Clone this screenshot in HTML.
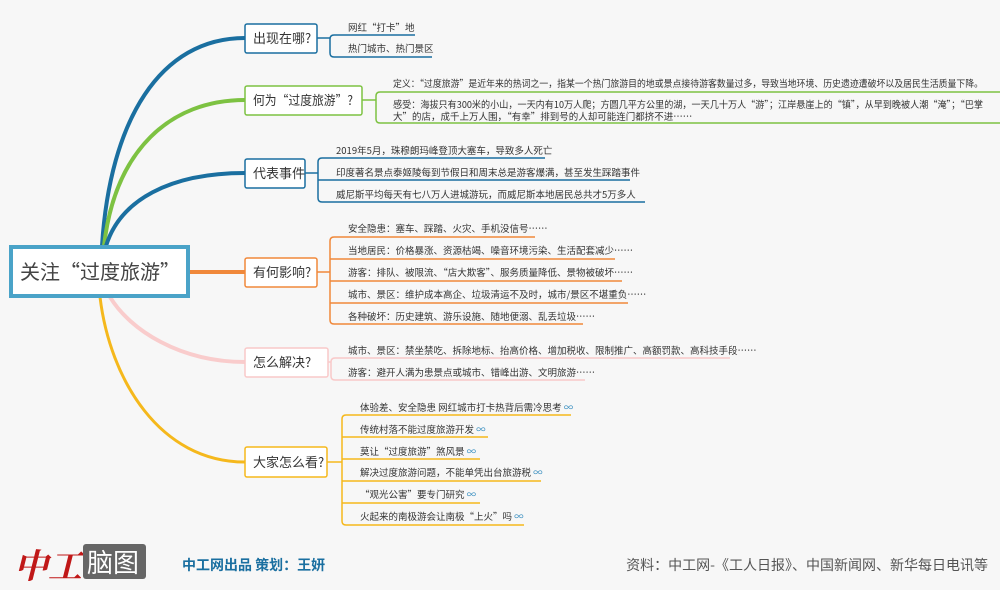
<!DOCTYPE html>
<html><head><meta charset="utf-8"><style>
html,body{margin:0;padding:0;background:#f7f7f7;}
body{width:1000px;height:590px;overflow:hidden;position:relative;font-family:"Noto Sans CJK SC","Liberation Sans",sans-serif;}
svg{position:absolute;left:0;top:0;}
text{font-family:"Noto Sans CJK SC","Liberation Sans",sans-serif;fill:#333;}
.s{font-size:9.5px;}
.b{font-size:13px;fill:#333;}
</style></head><body>
<svg width="1000" height="590" viewBox="0 0 1000 590">
<g fill="none" stroke-linecap="round">
<path d="M102 246 C110 120,160 38,245 38" stroke="#1a6fa0" stroke-width="4"/>
<path d="M104 246 C115 150,170 100,245 100" stroke="#7dc242" stroke-width="4"/>
<path d="M106 246 C120 200,170 173,245 173" stroke="#1a6fa0" stroke-width="4"/>
<path d="M190 272 L245 272" stroke="#f0883a" stroke-width="4"/>
<path d="M110 297 C130 330,180 362,245 362" stroke="#f9cccc" stroke-width="4"/>
<path d="M100 297 C110 380,160 462,245 462" stroke="#f5b81c" stroke-width="3"/>
</g>
<rect x="11" y="247" width="177" height="49" fill="#fff" stroke="#4aa3c8" stroke-width="4"/>
<text x="20" y="279" style="font-size:20px;fill:#444">关注“过度旅游”</text>
<g fill="#fff" stroke-width="1.5">
<rect x="245" y="24" width="72" height="29" rx="2" stroke="#1a6fa0"/>
<rect x="245" y="86" width="117" height="29" rx="2" stroke="#7dc242"/>
<rect x="245" y="159" width="60" height="29" rx="2" stroke="#1a6fa0"/>
<rect x="245" y="258" width="72" height="29" rx="2" stroke="#f0883a"/>
<rect x="245" y="348" width="83" height="29" rx="2" stroke="#f9c9c9"/>
<rect x="245" y="447" width="82" height="30" rx="2" stroke="#f5b81c"/>
</g>
<text class="b" x="253" y="43">出现在哪?</text>
<text class="b" x="253" y="105" textLength="100" lengthAdjust="spacingAndGlyphs">何为“过度旅游”?</text>
<text class="b" x="253" y="178">代表事件</text>
<text class="b" x="253" y="277">有何影响?</text>
<text class="b" x="253" y="367">怎么解决?</text>
<text class="b" x="253" y="467">大家怎么看?</text>
<g fill="none" stroke-width="1.5">
<g stroke="#1a6fa0"><path d="M317 38 H330"/><path d="M415 35 H334 Q330 35 330 39 V53 Q330 57 334 57 H432"/></g>
<g stroke="#7dc242"><path d="M362 100 H376"/><path d="M1000 92 H380 Q376 92 376 96 V119 Q376 123 380 123 H1000"/></g>
<g stroke="#1a6fa0"><path d="M305 173 H318"/><path d="M545 158 H322 Q318 158 318 162 V198 Q318 202 322 202 H645"/><path d="M318 180 H630"/></g>
<g stroke="#f0883a"><path d="M317 272 H330"/><path d="M535 237 H334 Q330 237 330 241 V320 Q330 324 334 324 H583"/><path d="M330 259 H615"/><path d="M330 281 H622"/><path d="M330 303 H628"/></g>
<g stroke="#f9c9c9"><path d="M328 362 H331"/><path d="M730 358 H335 Q331 358 331 362 V376 Q331 380 335 380 H585"/></g>
<g stroke="#f5b81c"><path d="M327 462 H342"/><path d="M571 415 H346 Q342 415 342 419 V521 Q342 525 346 525 H524"/><path d="M342 437 H488"/><path d="M342 459 H480"/><path d="M342 481 H541"/><path d="M342 503 H480"/></g>
</g>
<text class="s" x="348" y="31">网红“打卡”地</text>
<text class="s" x="348" y="52">热门城市、热门景区</text>
<text class="s" x="393" y="87" textLength="590" lengthAdjust="spacingAndGlyphs">定义：“过度旅游”是近年来的热词之一，指某一个热门旅游目的地或景点接待游客数量过多，导致当地环境、历史遗迹遭破坏以及居民生活质量下降。</text>
<text class="s" x="393" y="108" textLength="590" lengthAdjust="spacingAndGlyphs">感受：海拔只有300米的小山，一天内有10万人爬；方圆几平方公里的湖，一天几十万人“游”；江岸悬崖上的“镇”，从早到晚被人潮“淹”；“巴掌</text>
<text class="s" x="393" y="120">大”的店，成千上万人围，“有幸”排到号的人却可能连门都挤不进……</text>
<text class="s" x="336" y="154">2019年5月，珠穆朗玛峰登顶大塞车，导致多人死亡</text>
<text class="s" x="336" y="176">印度著名景点泰姬陵每到节假日和周末总是游客爆满，甚至发生踩踏事件</text>
<text class="s" x="336" y="198">威尼斯平均每天有七八万人进城游玩，而威尼斯本地居民总共才5万多人</text>
<text class="s" x="348" y="232">安全隐患：塞车、踩踏、火灾、手机没信号……</text>
<text class="s" x="348" y="254">当地居民：价格暴涨、资源枯竭、噪音环境污染、生活配套减少……</text>
<text class="s" x="348" y="276">游客：排队、被限流、“店大欺客”、服务质量降低、景物被破坏……</text>
<text class="s" x="348" y="298">城市、景区：维护成本高企、垃圾清运不及时，城市/景区不堪重负……</text>
<text class="s" x="348" y="320">各种破坏：历史建筑、游乐设施、随地便溺、乱丢垃圾……</text>
<text class="s" x="348" y="354">城市、景区：禁坐禁吃、拆除地标、抬高价格、增加税收、限制推广、高额罚款、高科技手段……</text>
<text class="s" x="348" y="376">游客：避开人满为患景点或城市、错峰出游、文明旅游……</text>
<g>
<text class="s" x="360" y="411">体验差、安全隐患 网红城市打卡热背后需冷思考 <tspan style="fill:#3a8fc0">∞</tspan></text>
<text class="s" x="360" y="433">传统村落不能过度旅游开发 <tspan style="fill:#3a8fc0">∞</tspan></text>
<text class="s" x="360" y="455">莫让“过度旅游”煞风景 <tspan style="fill:#3a8fc0">∞</tspan></text>
<text class="s" x="360" y="476">解决过度旅游问题，不能单凭出台旅游税 <tspan style="fill:#3a8fc0">∞</tspan></text>
<text class="s" x="360" y="498">“观光公害”要专门研究 <tspan style="fill:#3a8fc0">∞</tspan></text>
<text class="s" x="360" y="520">火起来的南极游会让南极“上火”吗 <tspan style="fill:#3a8fc0">∞</tspan></text>
</g>
<text x="14" y="578" style="font-size:34px;font-weight:bold;font-style:italic;fill:#c01818;font-family:'Noto Serif CJK SC','Noto Sans CJK SC',serif">中工</text>
<rect x="83" y="544" width="63" height="35" rx="3" fill="#666"/>
<text x="87" y="572" style="font-size:26px;fill:#fff">脑图</text>
<text x="182" y="570" style="font-size:14px;font-weight:bold;fill:#1a6fa0">中工网出品  策划：王妍</text>
<text x="988" y="570" text-anchor="end" style="font-size:14px;fill:#555">资料：中工网-《工人日报》、中国新闻网、新华每日电讯等</text>
</svg>
</body></html>
